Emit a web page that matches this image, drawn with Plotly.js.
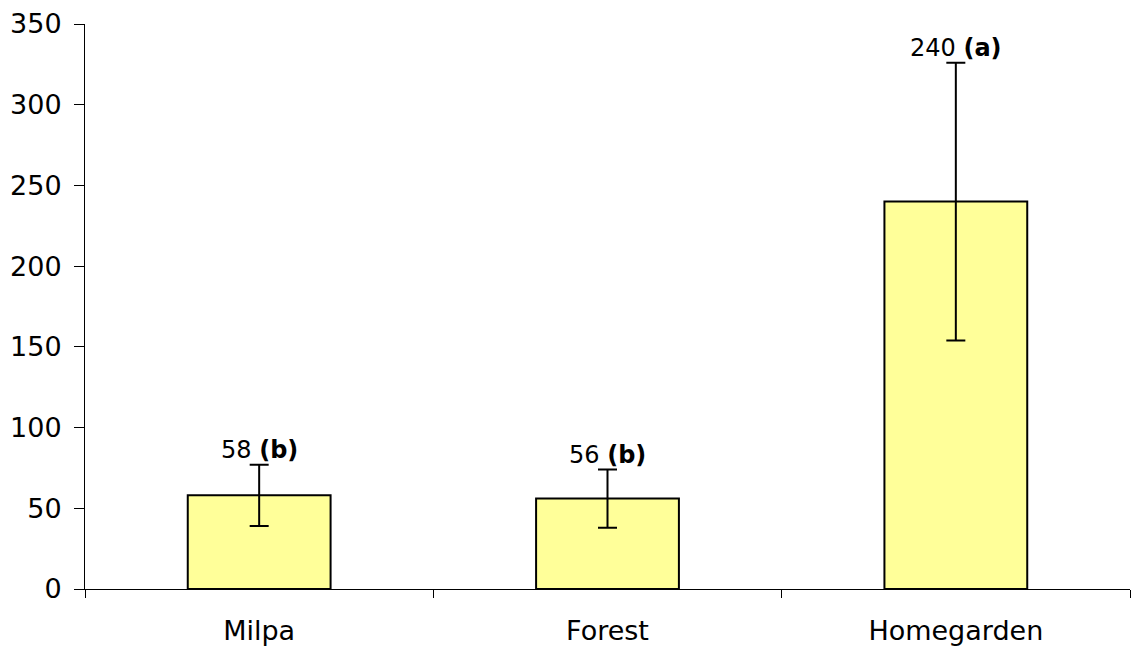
<!DOCTYPE html>
<html>
<head>
<meta charset="utf-8">
<script src="https://cdn.plot.ly/plotly-3.0.1.min.js"></script>
<style>html,body{margin:0;padding:0;background:#fff;}#chart{width:1131px;height:646px;}</style>
</head>
<body>
<div id="chart"></div>
<script>
const categories = ["Milpa", "Forest", "Homegarden"];
const means = [58, 56, 240];
const errors = [19, 18, 86];
const valueLabels = ["58", "56", "240"];
const groupLetters = ["(b)", "(b)", "(a)"];
const yTicks = [0, 50, 100, 150, 200, 250, 300, 350];

const trace = {
  type: "bar",
  x: categories,
  y: means,
  marker: {color: "#FFFF99", line: {color: "#000000", width: 2}},
  error_y: {type: "data", array: errors, visible: true, color: "#000000", thickness: 2, width: 9.5},
  hoverinfo: "none"
};

const annotations = categories.map((c, i) => ({
  x: c, y: means[i] + errors[i], xref: "x", yref: "y",
  text: valueLabels[i] + " <b>" + groupLetters[i] + "</b>",
  showarrow: false, yanchor: "middle", yshift: 15,
  font: {family: "DejaVu Sans", size: 24, color: "#000"}
}));

const layout = {
  width: 1131, height: 646,
  margin: {l: 85, r: 1, t: 24, b: 57},
  paper_bgcolor: "#fff", plot_bgcolor: "#fff",
  showlegend: false,
  bargap: 0.59,
  font: {family: "DejaVu Sans", size: 27, color: "#000"},
  xaxis: {
    type: "category", range: [-0.5, 2.5], tickson: "boundaries",
    ticks: "outside", ticklen: 8, tickcolor: "#000", tickwidth: 1,
    showline: true, linecolor: "#000", linewidth: 1,
    showgrid: false, zeroline: false, fixedrange: true, ticklabelstandoff: 18,
    tickfont: {family: "DejaVu Sans", size: 27, color: "#000"}, automargin: false
  },
  yaxis: {
    range: [0, 350], tickvals: yTicks, ticktext: yTicks.map(String),
    ticks: "outside", ticklen: 10, tickcolor: "#000", tickwidth: 1,
    showline: true, linecolor: "#000", linewidth: 1,
    showgrid: false, zeroline: false, fixedrange: true, ticklabelstandoff: 7,
    tickfont: {family: "DejaVu Sans", size: 27, color: "#000"}, automargin: false
  },
  annotations: annotations
};

Plotly.newPlot("chart", [trace], layout, {displayModeBar: false, staticPlot: true});
</script>
</body>
</html>
